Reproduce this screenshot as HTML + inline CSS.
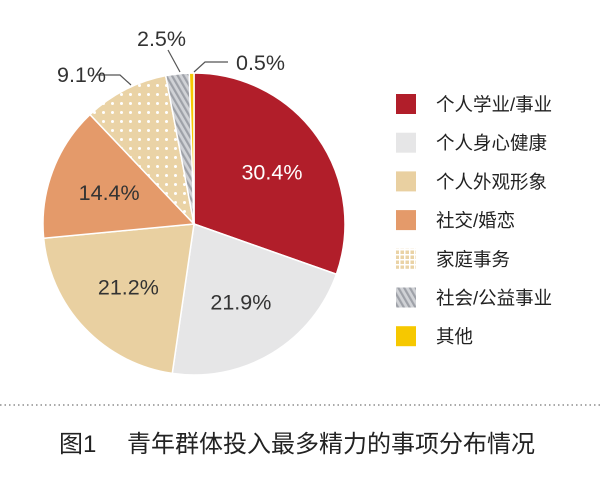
<!DOCTYPE html>
<html><head><meta charset="utf-8"><style>
body{margin:0;background:#fff;width:600px;height:489px;overflow:hidden;font-family:"Liberation Sans","Noto Sans CJK SC",sans-serif}
svg{display:block}
</style></head><body>
<svg width="600" height="489">
<defs>
<pattern id="dots" width="9" height="9" patternUnits="userSpaceOnUse"><rect width="9" height="9" fill="#ead3a6"/><circle cx="4.5" cy="4.5" r="1.5" fill="#fff"/></pattern>
<pattern id="stripes" width="5" height="5" patternUnits="userSpaceOnUse" patternTransform="rotate(-30)"><rect width="5" height="5" fill="#d0d2d6"/><rect width="2.2" height="5" fill="#9ea1a8"/></pattern>
<pattern id="lgdots" width="5" height="5" patternUnits="userSpaceOnUse"><rect width="5" height="5" fill="#fff"/><rect x="0.5" y="0.5" width="3.5" height="3.5" fill="#ead3a6"/></pattern>
</defs>
<g id="slices"></g>
<g id="labels" font-size="21.5" fill="#333"></g>
<g id="leaders" stroke="#555" stroke-width="1.2" fill="none">
<polyline points="97,75 120,75 131,85"/>
<polyline points="168,50 180,72"/>
<polyline points="228,62 205,62 194,72"/>
</g>
<text x="57" y="82" font-size="21.5" fill="#333">9.1%</text>
<text x="137" y="46" font-size="21.5" fill="#333">2.5%</text>
<text x="236" y="70" font-size="21.5" fill="#333">0.5%</text>
<g id="legend"></g>
<line x1="0" y1="405" x2="600" y2="405" stroke="#777" stroke-width="1.2" stroke-dasharray="1.5,3"/>
<text x="59" y="452" font-size="24" fill="#222">图1<tspan x="127">青年群体投入最多精力的事项分布情况</tspan></text>
</svg>
<script>
const categories=["个人学业/事业","个人身心健康","个人外观形象","社交/婚恋","家庭事务","社会/公益事业","其他"];
const values=[30.4,21.9,21.2,14.4,9.1,2.5,0.5];
const valueLabels=["30.4%","21.9%","21.2%","14.4%","9.1%","2.5%","0.5%"];
const fills=["#b11e2a","#e6e6e7","#e9d0a1","#e49a6a","url(#dots)","url(#stripes)","#f6c800"];
const legendFills=["#b11e2a","#e6e6e7","#e9d0a1","#e49a6a","url(#lgdots)","url(#stripes)","#f6c800"];
const NS="http://www.w3.org/2000/svg";
const cx=194,cy=224,r=151;
const total=values.reduce((a,b)=>a+b,0);
const sl=document.getElementById('slices'),lb=document.getElementById('labels'),lg=document.getElementById('legend');
let a0=0;
values.forEach((v,i)=>{
 const a1=a0+v/total*2*Math.PI;
 const p=(a)=>[cx+r*Math.sin(a),cy-r*Math.cos(a)];
 const [x0,y0]=p(a0),[x1,y1]=p(a1);
 const path=document.createElementNS(NS,'path');
 path.setAttribute('d',`M${cx},${cy}L${x0},${y0}A${r},${r} 0 ${a1-a0>Math.PI?1:0} 1 ${x1},${y1}Z`);
 path.setAttribute('fill',fills[i]);path.setAttribute('stroke','#fff');path.setAttribute('stroke-width','1.5');
 
 
 sl.appendChild(path);
 if(v>10){
  const m=(a0+a1)/2,rr=r*0.6;
  const t=document.createElementNS(NS,'text');
  t.setAttribute('x',cx+rr*Math.sin(m)+(i===0?4:0));t.setAttribute('y',cy-rr*Math.cos(m)+8);
  t.setAttribute('text-anchor','middle');
  if(i===0)t.setAttribute('fill','#fff');
  t.textContent=valueLabels[i];
  
  
  lb.appendChild(t);
 }
 a0=a1;
});
categories.forEach((c,i)=>{
 const y=104+i*38.7;
 const g=document.createElementNS(NS,'g');
 
 
 const rc=document.createElementNS(NS,'rect');
 rc.setAttribute('x',396);rc.setAttribute('y',y-10);rc.setAttribute('width',20);rc.setAttribute('height',20);rc.setAttribute('fill',legendFills[i]);
 
 
 const t=document.createElementNS(NS,'text');
 t.setAttribute('x',436);t.setAttribute('y',y+7);t.setAttribute('font-size','18.5');t.setAttribute('fill','#222');
 t.textContent=c;
 
 
 g.appendChild(rc);g.appendChild(t);lg.appendChild(g);
});
</script>
</body></html>
